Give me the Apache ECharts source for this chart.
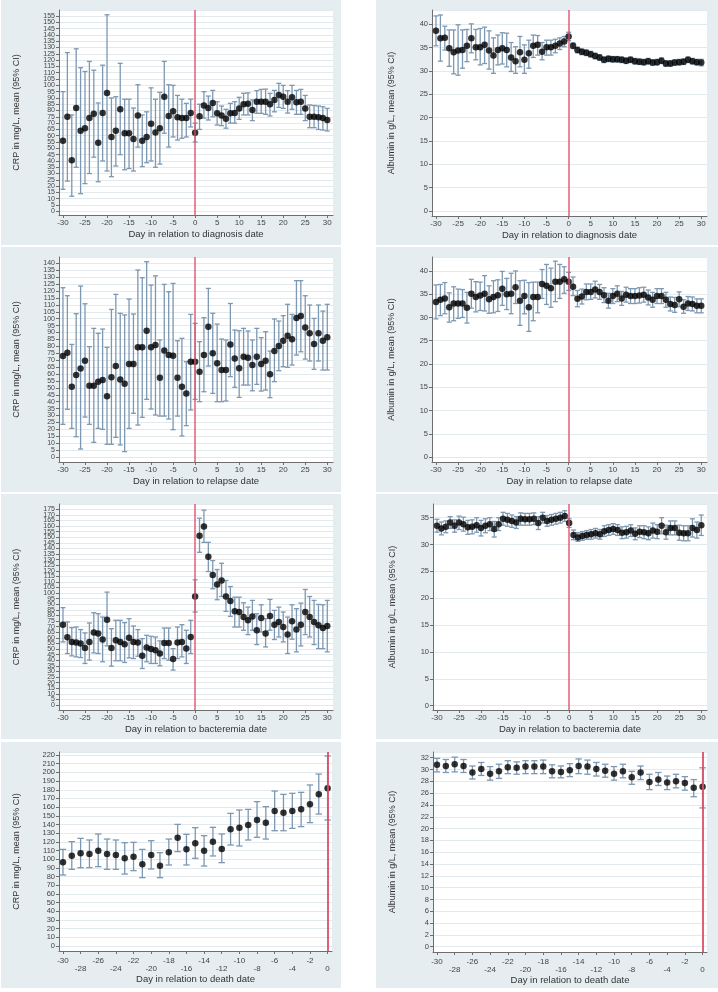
<!DOCTYPE html>
<html><head><meta charset="utf-8">
<script src="https://cdn.jsdelivr.net/npm/echarts@6/dist/echarts.min.js"></script>
<style>html,body{margin:0;padding:0;background:#fff}#c{width:718px;height:992px}</style>
</head><body><div id="c"></div><script>
// ---- categories (days) ----
const days = [-30,-29,-28,-27,-26,-25,-24,-23,-22,-21,-20,-19,-18,-17,-16,-15,-14,-13,-12,-11,-10,-9,-8,-7,-6,-5,-4,-3,-2,-1,0,1,2,3,4,5,6,7,8,9,10,11,12,13,14,15,16,17,18,19,20,21,22,23,24,25,26,27,28,29,30];
const deathDays = [-30,-29,-28,-27,-26,-25,-24,-23,-22,-21,-20,-19,-18,-17,-16,-15,-14,-13,-12,-11,-10,-9,-8,-7,-6,-5,-4,-3,-2,-1,0];

// ---- tick labels ----
const dayTicks = [-30,-25,-20,-15,-10,-5,0,5,10,15,20,25,30];
const deathDayTicks = [-30,-28,-26,-24,-22,-20,-18,-16,-14,-12,-10,-8,-6,-4,-2,0];
const crpDiagTicks = [0,5,10,15,20,25,30,35,40,45,50,55,60,65,70,75,80,85,90,95,100,105,110,115,120,125,130,135,140,145,150,155];
const crpRelTicks = [0,5,10,15,20,25,30,35,40,45,50,55,60,65,70,75,80,85,90,95,100,105,110,115,120,125,130,135,140];
const crpBactTicks = [0,5,10,15,20,25,30,35,40,45,50,55,60,65,70,75,80,85,90,95,100,105,110,115,120,125,130,135,140,145,150,155,160,165,170,175];
const crpDeathTicks = [0,10,20,30,40,50,60,70,80,90,100,110,120,130,140,150,160,170,180,190,200,210,220];
const albTicks = [0,5,10,15,20,25,30,35,40];
const albBactTicks = [0,5,10,15,20,25,30,35];
const albDeathTicks = [0,2,4,6,8,10,12,14,16,18,20,22,24,26,28,30,32];

// ---- CRP, diagnosis ----
const crpDiagMean = [56,75,40.5,82,64,66,74,77.5,54.5,78,94,59,64,81,62,62,57.5,76,56,59,69.5,62.5,66,91,75.7,79.4,74.6,74,74,78,62.4,75.4,84,82,86,77.8,76,73.5,77.8,78,81.7,85,85.4,80.4,87,87,87,85,88.4,92.3,91,87,90.5,86.5,87,81.7,75,75,74.6,74,72.5];
const crpDiagLo = [17.5,24,12,35,14,22,30,43,23.5,40,32,27.5,36,45,33,34,32,51,35.5,38.6,40,35,37.5,62,51,59,56.6,58,59,67,55,65,74,72.5,75,68.5,68,66,70,70,73,76.5,76.5,72,77.8,77.8,77,75.7,79,82.5,81.7,78,81,77,77,72,66.4,66.4,65,64.5,63.8];
const crpDiagHi = [95,126,76.5,129,114,111,119,112,86,116,156,90,91,117.5,89,89,82,100.5,76.5,79,98,89,94.5,119,100.5,100,92,89,85.7,89,70,85,95,91.5,96,87,83.6,81,85.7,87,90.5,93.7,94,88.4,95.8,96.8,97,93.6,96,101.6,100,95.8,100,96,96.8,92,84.4,84,83.6,83,81.7];

// ---- Albumin, diagnosis ----
const albDiagMean = [38.6,37,37.1,34.9,34,34.4,34.5,35.4,37,35.1,35.1,35.6,34.4,33.3,34.5,34.9,34.5,32.9,32.1,34,32.4,33.8,35.4,35.6,34.1,35.1,35.1,35.4,35.9,36.3,37.4,35.4,34.5,34.1,33.9,33.6,33.2,32.9,32.4,32.6,32.5,32.5,32.4,32.2,32.4,32.1,32,31.9,32.1,31.8,31.9,32.2,31.6,31.6,31.8,31.9,32,32.4,32.1,31.9,31.8];
const albDiagLo = [35.4,32.1,34.5,31,29.4,29.1,30.6,32,33.9,32.4,31.3,31.6,30.4,29.5,31.3,31.5,30.9,29.9,29.5,30.9,29.5,30.6,32.9,33.4,32.4,33.4,33.4,33.9,34.6,35.2,36.5,34.8,33.9,33.5,33.3,33,32.6,32.3,31.8,32,31.9,31.9,31.8,31.6,31.8,31.5,31.4,31.3,31.5,31.2,31.3,31.6,31,31,31.2,31.3,31.4,31.8,31.5,31.3,31.1];
const albDiagHi = [41.8,42,39.6,38.8,38.8,39.9,38.8,38.9,40.1,38.9,39.1,39.4,38.6,37.1,37.7,38.2,38.1,36.1,35.2,37.4,35.6,36.6,37.7,37.6,36.1,36.6,36.6,36.8,37.1,37.4,38.3,36,35.1,34.7,34.5,34.2,33.8,33.5,33,33.2,33.1,33.1,33,32.8,33,32.7,32.6,32.5,32.7,32.4,32.5,32.8,32.2,32.2,32.4,32.5,32.6,33,32.7,32.5,32.5];

// ---- CRP, relapse ----
const crpRelMean = [73,75.4,50.8,59.3,64,69.6,51.6,51.6,54.5,55.7,44,57.6,65.8,56.1,53,67.2,67.2,79.3,79.3,91.3,79.3,81,57.3,77,73.7,73.3,57.3,50.8,46,68.9,68.9,61.7,73.7,94.2,75,67.7,62.9,62.9,81.4,71.3,64.1,72.5,71.8,66.5,72.5,67.2,69.6,59.8,76.6,80.2,84.1,87.7,85.1,100.5,101.9,93.7,89.4,81.7,89.4,84.1,86.5];
const crpRelLo = [23.6,34.5,20.7,14.7,5.8,28.9,23.6,10.6,20.7,20,9.2,9.2,14.2,8.7,3.9,20.7,31.6,23.1,28.7,41.7,34.7,30.4,29.6,29.6,27.5,19.8,29.6,15.2,22.7,34,41.7,40,47.2,65.8,46,40,40,40.5,58.1,50.4,43.1,52,52,47.9,52.5,47.7,48.4,42.9,54.5,62.4,65.3,64.8,66.5,73.7,76.1,70.8,69.4,63.4,69.4,62.9,62.9];
const crpRelHi = [122.4,116.6,81.4,103.6,123.6,110.8,79.8,93,89.4,92.5,79.3,106.7,117.6,103.9,102.7,114.2,103.4,135.2,129.6,141.2,124.3,131,84.6,124.8,119.5,125.5,84.1,85.8,68.9,103.1,96.6,83.4,100.7,121.9,103.9,96.1,85.3,84.6,111,91.8,91.3,93,91.1,84.6,93,86.3,90.6,76.6,99.8,98.3,102.2,110.4,103.1,127.5,127.5,116.6,109.9,100.2,109.9,105.5,110.4];

// ---- Albumin, relapse ----
const albRelMean = [33.3,33.8,34.1,32.2,33,33,33,32.1,35.1,34.4,34.7,35.1,33.9,34.4,34.8,36.2,35,35.1,36.5,33.6,34.6,32.2,34.4,34.4,37.2,36.8,36.3,37.7,37.7,38.2,37.7,36.6,34,34.5,35.5,35.5,36,35.5,34.8,33.6,34.6,35.1,34.1,34.9,34.6,34.6,34.7,34.9,34.3,33.8,34.6,34.6,33.8,32.9,32.7,33.9,32.3,33,32.9,32.5,32.5];
const albRelLo = [29.7,30.4,30.8,29,29.3,29.8,30,28.8,32,31.2,31.5,31.4,30.9,31,31.3,32.6,31.7,30.8,33,28.3,30.8,27,29.3,31,34.1,32.8,32.2,33.4,34.1,35.2,35.8,34.7,32.3,32.9,33.8,33.9,34.2,33.9,33.2,32,33,33.4,32.6,33.3,33,33,33.1,33.3,32.7,32.2,33,33,32.2,31.4,31.1,32.3,30.9,31.5,31.4,31,31];
const albRelHi = [37,37.1,37.5,35.3,36.6,36.1,36,35.4,38.2,37.7,37.6,39,36.8,37.9,38.1,39.9,38.4,39.5,40,37.9,38,37.5,37.6,37.6,40.3,41.4,40.6,42.1,41.4,40.9,39.7,38.7,35.8,36.1,37.2,37.2,37.8,37.1,36.4,35.2,36.2,36.8,35.6,36.5,36.2,36.2,36.4,36.5,35.9,35.4,36.2,36.2,35.4,34.4,34.3,35.5,33.8,34.5,34.4,34,34];

// ---- CRP, bacteremia ----
const crpBactMean = [71.8,60.5,56.4,55.8,54.9,51,56.4,64.7,63.8,58.5,76.3,51,57.9,56.4,54.3,60.2,56.4,55.8,43.9,51.3,50.1,49,46,55.5,55.5,41,55.8,56.4,50.4,60.8,97,151.3,159.6,132.6,116.3,107.7,111.3,97,92.9,83.7,83.1,78.6,75.7,79.2,66.8,77.7,63.8,79.5,71.8,74.2,69.7,62.9,74.8,67.4,71.8,83.1,78.6,74.2,71.2,68.8,70.6];
const crpBactLo = [56.4,46,43.9,43,42.4,37.1,40.1,46.6,46,38.6,52.8,34.7,39.5,39.5,38,42.1,41.5,43.6,32.6,38.6,37.1,37.1,35,41.5,40.1,31.2,41.5,43,37.1,46,83.1,136.5,145.4,119.3,103.9,94.1,97,83.7,79.2,69.7,69.7,66.8,62.9,66.8,54,65.3,51.9,66.8,58.5,60.8,56.4,46,58.8,47.5,52.8,62.9,60.8,54,50.4,50.4,47.5];
const crpBactHi = [87,74.2,69.1,69.7,67.4,64.4,73.3,82.5,81.6,78.6,100.9,68.2,75.7,75.7,73.6,77.2,70.6,67.4,59.3,62.3,61.4,60.8,57.3,68.8,68.8,50.4,69.7,71.8,66.8,75.7,111.9,167,174.2,145.4,129.1,121.1,126.7,111.3,105.9,96.4,96.4,91.4,87.5,93.5,81.6,89.6,77.2,94.4,84.6,87.5,83.1,78.6,89.6,86.1,91.1,103.3,97,93.5,89.9,89.6,93.5];

// ---- Albumin, bacteremia ----
const albBactMean = [33.5,33,33.3,34.1,33.5,34.1,33.8,33.2,33.3,33.6,33.1,33.5,33.8,32.9,33.8,34.8,34.6,34.4,34.1,34.8,34.7,34.7,34.8,34,35,34.4,34.6,34.8,35,35.3,34,31.8,31.3,31.6,31.8,31.9,32.1,31.9,32.5,32.7,32.9,32.7,32.2,32.3,32.6,32,32.4,32.3,32.1,32.6,32.4,33.5,32.3,33.1,33.1,32.2,32.1,32.1,33.1,32.7,33.6];
const albBactLo = [32.3,31.8,32.2,33,32.3,32.8,32.5,31.9,32,32.3,31.6,32.2,32.6,31.4,32.6,33.6,33.4,33.2,33,33.6,33.6,33.6,33.7,32.8,34,33.4,33.6,33.8,34,34.3,33.2,30.9,30.6,30.8,31,31,31.2,31,31.5,31.7,31.9,31.7,31.1,31.2,31.5,30.9,31.3,31.1,30.9,31.2,31.1,32,31,31.8,31.8,30.8,30.7,30.7,31.4,31.2,31.7];
const albBactHi = [34.7,34.2,34.4,35.2,34.6,35.3,35.1,34.5,34.6,35,34.5,34.8,35,34.3,35,36,35.8,35.5,35.2,35.9,35.8,35.8,35.9,35.2,36,35.4,35.6,35.8,36,36.3,34.8,32.7,32.2,32.4,32.6,32.8,33,32.8,33.5,33.7,33.9,33.7,33.3,33.4,33.7,33.1,33.5,33.5,33.3,34,33.7,35,33.6,34.4,34.4,33.6,33.5,33.5,34.8,34.2,35.5];

// ---- CRP, death ----
const crpDeathMean = [96.4,104,106.7,106,109.8,106,104.8,101,102.9,94.1,104.8,92.5,107.9,124.8,111.3,118.3,109.8,120.2,111.7,134.4,136.3,139.4,145.1,142.1,155.5,153.6,155.5,157.4,163.2,174.7,181.6];
const crpDeathLo = [81.8,88.3,90.2,90.2,91.4,88.3,88.3,82.9,86.8,78.7,88.7,78.7,93.3,108.7,93.3,101,92.1,103.7,96,116.3,115.2,122.1,125.2,123.2,132.8,132.8,135.5,137.5,142.1,152,145.1];
const crpDeathHi = [111.3,120.2,124,122.1,129,123.2,122.1,119,119.4,111.3,121.3,107.5,123.2,140.1,128.6,136.3,127.1,136.7,129,152.8,156.7,157.4,166.3,160.5,178.5,174.7,175.9,177,185.5,198.1,218.9];

// ---- Albumin, death ----
const albDeathMean = [30.8,30.6,30.9,30.6,29.5,30.1,29.3,29.7,30.4,30.3,30.5,30.5,30.5,29.7,29.6,29.9,30.6,30.5,30.1,29.8,29.3,29.7,28.7,29.5,27.9,28.3,27.8,28,27.7,26.9,27.1];
const albDeathLo = [29.6,29.5,29.6,29.5,28.4,29,28.2,28.5,29.3,29.2,29.3,29.3,29.3,28.6,28.6,28.8,29.3,29.2,28.9,28.7,28.2,28.6,27.5,28.3,26.6,27.3,26.6,26.9,26.5,25.4,23.5];
const albDeathHi = [31.9,31.7,32.1,31.7,30.6,31.2,30.5,30.9,31.5,31.3,31.5,31.5,31.6,30.8,30.6,31,31.8,31.6,31.2,30.9,30.5,30.9,29.7,30.6,29.2,29.5,28.9,29.2,28.8,28.3,30.3];

const CRP_NAME = 'CRP in mg/L, mean (95% CI)';
const ALB_NAME = 'Albumin in g/L, mean (95% CI)';

const panels = [
  {grid:{left:59,top:10,width:274,height:205}, x:days, xTicks:dayTicks, xMin:-30.9, xMax:31.3, yMin:-2.9, yMax:159.8, yTicks:crpDiagTicks, m:crpDiagMean, lo:crpDiagLo, hi:crpDiagHi, yName:CRP_NAME, xName:'Day in relation to diagnosis date', yFont:7, cap:2.5, death:false},
  {grid:{left:432,top:10,width:275,height:206}, x:days, xTicks:dayTicks, xMin:-30.9, xMax:31.3, yMin:-1.07, yMax:43.07, yTicks:albTicks, m:albDiagMean, lo:albDiagLo, hi:albDiagHi, yName:ALB_NAME, xName:'Day in relation to diagnosis date', yFont:7.5, cap:2.5, death:false},
  {grid:{left:59,top:257,width:274,height:205}, x:days, xTicks:dayTicks, xMin:-30.9, xMax:31.3, yMin:-3.6, yMax:144.6, yTicks:crpRelTicks, m:crpRelMean, lo:crpRelLo, hi:crpRelHi, yName:CRP_NAME, xName:'Day in relation to relapse date', yFont:7, cap:2.5, death:false},
  {grid:{left:432,top:257,width:275,height:205}, x:days, xTicks:dayTicks, xMin:-30.9, xMax:31.3, yMin:-1.07, yMax:43, yTicks:albTicks, m:albRelMean, lo:albRelLo, hi:albRelHi, yName:ALB_NAME, xName:'Day in relation to relapse date', yFont:7.5, cap:2.5, death:false},
  {grid:{left:59,top:504,width:274,height:206}, x:days, xTicks:dayTicks, xMin:-30.9, xMax:31.3, yMin:-4.5, yMax:179.7, yTicks:crpBactTicks, m:crpBactMean, lo:crpBactLo, hi:crpBactHi, yName:CRP_NAME, xName:'Day in relation to bacteremia date', yFont:7, cap:2.5, death:false},
  {grid:{left:433,top:504,width:274,height:206}, x:days, xTicks:dayTicks, xMin:-30.9, xMax:31.3, yMin:-0.8, yMax:37.55, yTicks:albBactTicks, m:albBactMean, lo:albBactLo, hi:albBactHi, yName:ALB_NAME, xName:'Day in relation to bacteremia date', yFont:7.5, cap:2.5, death:false},
  {grid:{left:59,top:752,width:273,height:199}, x:deathDays, xTicks:deathDayTicks, xMin:-30.45, xMax:0.5, yMin:-5.8, yMax:223.5, yTicks:crpDeathTicks, m:crpDeathMean, lo:crpDeathLo, hi:crpDeathHi, yName:CRP_NAME, xName:'Day in relation to death date', yFont:7.5, cap:3.2, death:true},
  {grid:{left:433,top:752,width:274,height:200}, x:deathDays, xTicks:deathDayTicks, xMin:-30.45, xMax:0.5, yMin:-0.9, yMax:32.97, yTicks:albDeathTicks, m:albDeathMean, lo:albDeathLo, hi:albDeathHi, yName:ALB_NAME, xName:'Day in relation to death date', yFont:7.5, cap:3.2, death:true}
];

const BG = '#e6edf0';
const CI_COLOR = '#7d98b2';
const RED = '#dd4f67';
const AXIS = '#6e6e6e';
const TXT = '#444';
const FONT = 'Liberation Sans, Arial, sans-serif';

function errRender(capHalf){
  return function(params, api){
    const x = api.value(0), lo = api.value(1), hi = api.value(2);
    const a = api.coord([x, lo]), b = api.coord([x, hi]);
    const style = {stroke: CI_COLOR, lineWidth: 1.3};
    return {type:'group', children:[
      {type:'line', shape:{x1:a[0], y1:a[1], x2:b[0], y2:b[1]}, style:style},
      {type:'line', shape:{x1:b[0]-capHalf, y1:b[1], x2:b[0]+capHalf, y2:b[1]}, style:style},
      {type:'line', shape:{x1:a[0]-capHalf, y1:a[1], x2:a[0]+capHalf, y2:a[1]}, style:style}
    ]};
  };
}

const grids=[], xAxes=[], yAxes=[], series=[];
panels.forEach((p, i) => {
  const right = p.grid.left > 300;
  // axis ends are padded with blank entries so the library's min/max-label
  // overlap handling drops only those blanks, never a real tick label
  const yVals = [p.yMin].concat(p.yTicks, [p.yMax]);
  grids.push(Object.assign({show:true, backgroundColor:'#fff', borderWidth:0}, p.grid));
  xAxes.push({
    type:'value', gridIndex:i, min:p.xMin, max:p.xMax,
    name:p.xName, nameLocation:'middle', nameGap: p.death ? 21 : 14,
    nameTextStyle:{fontFamily:FONT, fontSize:9.5, color:'#333'},
    axisLine:{show:true, onZero:false, lineStyle:{color:AXIS, width:1}},
    axisTick:{show:true, length:3, customValues:p.xTicks, lineStyle:{color:AXIS}},
    axisLabel:{customValues:p.xTicks, showMinLabel:true, showMaxLabel:true, hideOverlap:false,
      fontFamily:FONT, fontSize:8, color:TXT, margin: p.death ? 6 : 4, lineHeight:8,
      formatter: p.death ? function(v){ const k = p.xTicks.indexOf(v); return (k % 2 === 1) ? '\n' + v : String(v); } : function(v){ return String(v); }},
    splitLine:{show:false}
  });
  yAxes.push({
    type:'value', gridIndex:i, min:p.yMin, max:p.yMax,
    name:p.yName, nameLocation:'middle', nameRotate:90, nameGap: right ? 35.5 : 38,
    nameTextStyle:{fontFamily:FONT, fontSize:9, color:'#333'},
    axisLine:{show:true, onZero:false, lineStyle:{color:AXIS, width:1}},
    axisTick:{show:true, length:3, customValues:yVals, lineStyle:{color:AXIS}},
    axisLabel:{customValues:yVals, showMinLabel:false, showMaxLabel:false, hideOverlap:false,
      fontFamily:FONT, fontSize:p.yFont, color:TXT, margin:4,
      formatter:function(v){ return p.yTicks.indexOf(v) >= 0 ? String(v) : ''; }},
    splitLine:{show:true, lineStyle:{color:'#e3eaee', width:1}}
  });
  series.push({
    type:'custom', xAxisIndex:i, yAxisIndex:i, z:2,
    renderItem: errRender(p.cap),
    encode:{x:0, y:[1,2]},
    data: p.x.map((d, k) => [d, p.lo[k], p.hi[k]]),
    markLine:{silent:true, symbol:['none','none'], label:{show:false},
      lineStyle:{color:RED, width: p.death ? 2 : 1.5, type:'solid', opacity:0.9},
      data:[{xAxis:0}]}
  });
  series.push({
    type:'scatter', xAxisIndex:i, yAxisIndex:i, z:3,
    symbol:'circle', symbolSize:6.5,
    itemStyle:{color:'#000'},
    data: p.x.map((d, k) => [d, p.m[k]])
  });
});

const bgRects = [];
[[1,0],[376,0],[1,247],[376,247],[1,494],[376,494],[1,742],[376,742]].forEach(function(r, i){
  bgRects.push({type:'rect', z:-10, silent:true, shape:{x:r[0], y:r[1], width: r[0] < 300 ? 340 : 342, height: i >= 6 ? 246 : 245}, style:{fill:BG}});
});

const chart = echarts.init(document.getElementById('c'), null, {renderer:'canvas'});
chart.setOption({
  animation:false,
  backgroundColor:'#fff',
  graphic:{elements:bgRects},
  grid:grids, xAxis:xAxes, yAxis:yAxes, series:series
});
</script></body></html>
